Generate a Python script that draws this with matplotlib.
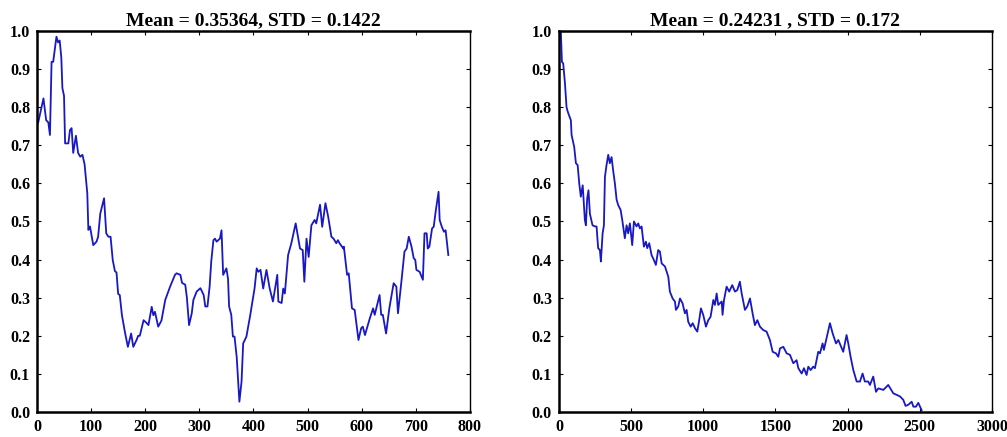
import matplotlib
matplotlib.use('Agg')
import matplotlib.pyplot as plt

plt.rcParams['font.family'] = 'Liberation Serif'
plt.rcParams['font.weight'] = 'bold'

# serie da esquerda
esq_x = [2, 12, 17, 21, 24, 27, 30, 36, 39, 42, 45, 47, 50, 52, 58, 61, 64, 67, 72, 76, 80, 84, 88, 93,
         95, 98, 104, 110, 113, 117, 124, 128, 132, 136, 140, 144, 147, 150, 153, 157, 163, 168, 174, 178,
         184, 187, 190, 197, 203, 206, 212, 215, 218, 224, 230, 237, 246, 255, 258, 265, 268, 274, 277,
         281, 286, 289, 295, 302, 308, 311, 315, 319, 322, 326, 329, 332, 335, 338, 341, 344, 350, 353,
         355, 359, 362, 365, 369, 374, 378, 381, 387, 394, 402, 406, 409, 413, 418, 424, 430, 436, 444,
         446, 452, 455, 458, 464, 470, 478, 486, 491, 494, 498, 502, 507, 513, 516, 523, 527, 533, 538,
         544, 548, 553, 556, 559, 566, 567, 573, 576, 582, 587, 594, 599, 602, 606, 615, 621, 624, 633,
         636, 639, 645, 651, 659, 664, 667, 673, 679, 683, 687, 692, 696, 699, 701, 707, 713, 716, 720,
         722, 725, 730, 733, 737, 742, 744, 748, 752, 755, 760]
esq_y = [0.758, 0.823, 0.766, 0.760, 0.727, 0.919, 0.919, 0.985, 0.970, 0.975, 0.930, 0.850, 0.830, 0.705,
         0.705, 0.740, 0.745, 0.680, 0.725, 0.680, 0.670, 0.675, 0.650, 0.574,
         0.478, 0.487, 0.438, 0.447, 0.460, 0.521, 0.561, 0.469, 0.460, 0.460, 0.399, 0.370, 0.366, 0.310,
         0.307, 0.254, 0.206, 0.171, 0.206, 0.171,
         0.189, 0.200, 0.200, 0.241, 0.233, 0.228, 0.276, 0.254, 0.263, 0.224, 0.240, 0.294, 0.329, 0.360,
         0.364, 0.360, 0.339, 0.334, 0.300,
         0.228, 0.259, 0.294, 0.316, 0.325, 0.307, 0.277, 0.277, 0.329, 0.395, 0.451, 0.455, 0.447,
         0.451, 0.455, 0.477, 0.360, 0.377, 0.350,
         0.277, 0.255, 0.198, 0.198, 0.145, 0.027, 0.080, 0.180, 0.198, 0.254, 0.324, 0.377, 0.368, 0.373,
         0.324, 0.373, 0.324, 0.290, 0.360,
         0.290, 0.286, 0.324, 0.311, 0.412, 0.443, 0.495, 0.429, 0.425, 0.342, 0.455, 0.407, 0.490, 0.504,
         0.495, 0.544, 0.486, 0.548, 0.513,
         0.460, 0.455, 0.443, 0.451, 0.443, 0.429, 0.434, 0.360, 0.364, 0.272, 0.268, 0.189, 0.220, 0.224,
         0.202, 0.246, 0.272, 0.255, 0.307,
         0.255, 0.255, 0.206, 0.272, 0.338, 0.329, 0.259, 0.338, 0.421, 0.429, 0.460, 0.434, 0.404, 0.399,
         0.373, 0.368, 0.347, 0.469, 0.469,
         0.429, 0.434, 0.482, 0.486, 0.530, 0.578, 0.504, 0.486, 0.473, 0.477, 0.412]

# serie da direita
dir_x = [2, 14, 21, 30, 42, 53, 60, 69, 83, 88, 106, 118, 130, 141, 152, 165, 180, 187, 196, 205, 215,
         233, 250, 261, 272, 284, 291, 303, 312, 319, 330, 342, 353, 365, 376, 388, 400, 411, 428, 439,
         457, 469, 480, 492, 508, 520, 538, 550, 561, 573, 589, 603, 612, 626, 642, 658, 672, 688, 700,
         712, 735, 758, 769, 788, 804, 811, 827, 839, 857, 873, 885, 896, 913, 927, 943, 959, 972, 984,
         1000, 1019, 1035, 1051, 1070, 1081, 1093, 1104, 1128, 1134, 1144, 1162, 1180, 1201, 1220, 1236,
         1254, 1266, 1289, 1305, 1324, 1342, 1358, 1375, 1393, 1416, 1439, 1462, 1481, 1504, 1520, 1532,
         1555, 1578, 1601, 1624, 1647, 1659, 1682, 1698, 1716, 1728, 1744, 1762, 1774, 1797, 1809, 1827,
         1836, 1878, 1897, 1920, 1936, 1970, 1993, 2005, 2021, 2040, 2063, 2086, 2104, 2120, 2143, 2155,
         2178, 2197, 2213, 2248, 2282, 2317, 2340, 2363, 2386, 2402, 2421, 2444, 2456, 2474, 2490, 2513]
dir_y = [0.998, 0.995, 0.919, 0.915, 0.863, 0.800, 0.790, 0.780, 0.766, 0.727, 0.696, 0.653, 0.648, 0.600,
         0.565, 0.595, 0.504, 0.490, 0.560, 0.582, 0.520,
         0.490, 0.487, 0.487, 0.430, 0.425, 0.395, 0.469, 0.490, 0.617, 0.648, 0.675, 0.653, 0.669, 0.634,
         0.600, 0.557, 0.543, 0.530, 0.504,
         0.456, 0.490, 0.469, 0.495, 0.438, 0.500, 0.487, 0.495, 0.482, 0.487, 0.434, 0.447, 0.430, 0.443,
         0.412, 0.399, 0.386, 0.425, 0.421,
         0.390, 0.382, 0.355, 0.316, 0.298, 0.290, 0.268, 0.277, 0.298, 0.285, 0.259, 0.268, 0.237, 0.224,
         0.233, 0.220, 0.211, 0.241, 0.272,
         0.255, 0.224, 0.241, 0.250, 0.294, 0.281, 0.311, 0.281, 0.290, 0.255, 0.294, 0.329, 0.316, 0.333,
         0.316, 0.320,
         0.342, 0.312, 0.268, 0.277, 0.298, 0.259, 0.228, 0.241, 0.224, 0.215, 0.211, 0.189, 0.158, 0.154,
         0.145, 0.167,
         0.171, 0.154, 0.150, 0.128, 0.136, 0.115, 0.101, 0.115, 0.097, 0.119, 0.110, 0.119, 0.115, 0.158,
         0.154, 0.180,
         0.163, 0.233, 0.206, 0.180, 0.189, 0.158, 0.202, 0.180, 0.145, 0.110, 0.080, 0.080, 0.101, 0.080,
         0.080, 0.071,
         0.093, 0.053, 0.062, 0.058, 0.071, 0.049, 0.045, 0.041, 0.032, 0.016, 0.019, 0.027, 0.014, 0.014,
         0.024, 0.005]

titulos = ['Mean = 0.35364, STD = 0.1422', 'Mean = 0.24231 , STD = 0.172']
ticks_x = [[0, 100, 200, 300, 400, 500, 600, 700, 800],
           [0, 500, 1000, 1500, 2000, 2500, 3000]]
ticks_y = [0.0, 0.1, 0.2, 0.3, 0.4, 0.5, 0.6, 0.7, 0.8, 0.9, 1.0]

fig = plt.figure(figsize=(10.07, 4.37), dpi=100)
ax1 = fig.add_axes([0.0367, 0.0572, 0.43, 0.8719])
ax2 = fig.add_axes([0.555, 0.0572, 0.43, 0.8719])

for ax, xs, ys, tit, tx in zip([ax1, ax2], [esq_x, dir_x], [esq_y, dir_y], titulos, ticks_x):
    ax.plot(xs, ys, color='#1818c4', linewidth=1.3)
    ax.set_xlim(tx[0], tx[-1])
    ax.set_ylim(0, 1.0)
    ax.set_xticks(tx)
    ax.set_xticklabels([str(t) for t in tx], fontweight='heavy', fontsize=11.5)
    ax.set_yticks(ticks_y)
    ax.set_yticklabels(['%.1f' % t for t in ticks_y], fontweight='heavy', fontsize=11.5)
    ax.set_title(tit, fontsize=14, fontweight='bold', pad=4)
    ax.tick_params(direction='in', length=3, width=0.8, top=True, right=True, pad=5)
    for s in ['left', 'bottom', 'top']:
        ax.spines[s].set_linewidth(1.8)
    ax.spines['right'].set_linewidth(1.0)

plt.savefig('out.png', dpi=100)
